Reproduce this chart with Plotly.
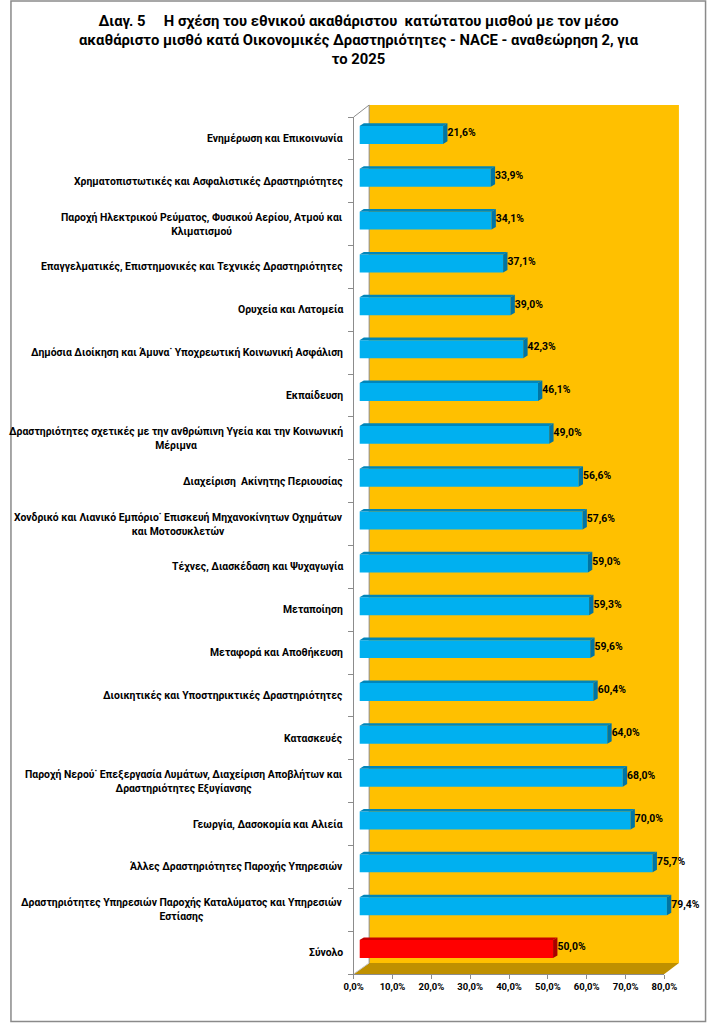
import plotly.graph_objects as go

W, H = 720, 1023

title_lines = [
    "Διαγ. 5\u00a0\u00a0\u00a0\u00a0\u00a0Η σχέση του εθνικού ακαθάριστου\u00a0 κατώτατου μισθού με τον μέσο",
    "ακαθάριστο μισθό κατά Οικονομικές Δραστηριότητες - NACE - αναθεώρηση 2, για",
    "το 2025",
]

categories = [
    "Ενημέρωση και Επικοινωνία",
    "Χρηματοπιστωτικές και Ασφαλιστικές Δραστηριότητες",
    "Παροχή Ηλεκτρικού Ρεύματος, Φυσικού Αερίου, Ατμού και<br>Κλιματισμού",
    "Επαγγελματικές, Επιστημονικές και Τεχνικές Δραστηριότητες",
    "Ορυχεία και Λατομεία",
    "Δημόσια Διοίκηση και Άμυνα˙ Υποχρεωτική Κοινωνική Ασφάλιση",
    "Εκπαίδευση",
    "Δραστηριότητες σχετικές με την ανθρώπινη Υγεία και την Κοινωνική<br>Μέριμνα",
    "Διαχείριση\u00a0 Ακίνητης Περιουσίας",
    "Χονδρικό και Λιανικό Εμπόριο˙ Επισκευή Μηχανοκίνητων Οχημάτων<br>και Μοτοσυκλετών",
    "Τέχνες, Διασκέδαση και Ψυχαγωγία",
    "Μεταποίηση",
    "Μεταφορά και Αποθήκευση",
    "Διοικητικές και Υποστηρικτικές Δραστηριότητες",
    "Κατασκευές",
    "Παροχή Νερού˙ Επεξεργασία Λυμάτων, Διαχείριση Αποβλήτων και<br>Δραστηριότητες Εξυγίανσης",
    "Γεωργία, Δασοκομία και Αλιεία",
    "Άλλες Δραστηριότητες Παροχής Υπηρεσιών",
    "Δραστηριότητες Υπηρεσιών Παροχής Καταλύματος και Υπηρεσιών<br>Εστίασης",
    "Σύνολο",
]

values = [21.6, 33.9, 34.1, 37.1, 39.0, 42.3, 46.1, 49.0, 56.6, 57.6,
          59.0, 59.3, 59.6, 60.4, 64.0, 68.0, 70.0, 75.7, 79.4, 50.0]

x_ticks = [0, 10, 20, 30, 40, 50, 60, 70, 80]
x_ticktext = [f"{t:.1f}".replace(".", ",") + "%" for t in x_ticks]

# styles
BLUE_FRONT, BLUE_TOP, BLUE_SIDE = "#00B0F0", "#0086BA", "#0074A4"
RED_FRONT, RED_TOP, RED_SIDE = "#FF0000", "#C80000", "#A80000"
WALL, FLOOR, EDGE = "#FFC000", "#BF9000", "#8C8C8C"
FONT = "Roboto"


def px(x):
    return x / W


def py(y):
    return 1 - y / H


n = len(categories)
pos = list(range(n))
total_idx = n - 1

# 3D depth offsets (in data units of the bar axes)
PX_PER_UNIT = 4.0
DX = 4.5 / PX_PER_UNIT   # 4.5 px
DY = 2.6 / 42.9          # 2.6 px at 42.9 px per category
BW = 0.42
BAR_AX_MAX = 85          # keeps labels beyond 80% inside the bar axis range

fig = go.Figure()

colors = [RED_FRONT if i == total_idx else BLUE_FRONT for i in pos]
fig.add_trace(go.Bar(
    x=values, y=pos, orientation="h", width=BW,
    marker=dict(color=colors, line=dict(width=0)),
    xaxis="x2", yaxis="y2", hoverinfo="skip", showlegend=False,
))


def faces(idx_list):
    tx, ty, sx, sy = [], [], [], []
    for i in idx_list:
        v = values[i]
        c = pos[i]
        t = c - BW / 2
        b = c + BW / 2
        tx += [0, v, v + DX, DX, 0, None]
        ty += [t, t, t - DY, t - DY, t, None]
        sx += [v, v, v + DX, v + DX, v, None]
        sy += [t, b, b - DY, t - DY, t, None]
    return tx, ty, sx, sy


blue_idx = [i for i in pos if i != total_idx]
red_idx = [total_idx]
for idx, ctop, cside in [(blue_idx, BLUE_TOP, BLUE_SIDE), (red_idx, RED_TOP, RED_SIDE)]:
    tx, ty, sx, sy = faces(idx)
    fig.add_trace(go.Scatter(x=tx, y=ty, mode="lines", fill="toself", fillcolor=ctop,
                             line=dict(width=0, color=ctop), xaxis="x2", yaxis="y2",
                             hoverinfo="skip", showlegend=False))
    fig.add_trace(go.Scatter(x=sx, y=sy, mode="lines", fill="toself", fillcolor=cside,
                             line=dict(width=0, color=cside), xaxis="x2", yaxis="y2",
                             hoverinfo="skip", showlegend=False))

labels = [f"{v:.1f}".replace(".", ",") + "%" for v in values]
fig.add_trace(go.Scatter(
    x=[v + DX for v in values], y=[p - DY / 2 for p in pos], mode="text",
    text=labels, textposition="middle right", cliponaxis=False,
    textfont=dict(family=FONT, size=10.4, color="black", weight="bold"),
    xaxis="x2", yaxis="y2", hoverinfo="skip", showlegend=False,
))

shapes = [
    # back wall
    dict(type="rect", xref="paper", yref="paper", x0=px(371), x1=px(691), y0=py(963), y1=py(105),
         fillcolor=WALL, line=dict(width=0), layer="below"),
    # floor
    dict(type="path", xref="paper", yref="paper",
         path=f"M {px(355)},{py(974)} L {px(676)},{py(974)} L {px(691)},{py(963)} L {px(371)},{py(963)} Z",
         fillcolor=FLOOR, line=dict(width=0), layer="below"),
    # left wall edges
    dict(type="line", xref="paper", yref="paper", x0=px(371), x1=px(371), y0=py(963), y1=py(105),
         line=dict(color=EDGE, width=1), layer="below"),
    dict(type="line", xref="paper", yref="paper", x0=px(355), x1=px(371), y0=py(117), y1=py(105),
         line=dict(color=EDGE, width=1), layer="below"),
    dict(type="line", xref="paper", yref="paper", x0=px(355), x1=px(371), y0=py(974), y1=py(963),
         line=dict(color="#C8C8C8", width=1), layer="below"),
    # outer border
    dict(type="rect", xref="paper", yref="paper", x0=px(1), x1=px(718.5), y0=py(1021.5), y1=py(1),
         fillcolor="rgba(0,0,0,0)", line=dict(color="#8A8A8A", width=1.5)),
]

annotations = [
    dict(text="<br>".join(title_lines), xref="paper", yref="paper", x=0.5, y=py(10),
         xanchor="center", yanchor="top", showarrow=False, align="center",
         font=dict(family=FONT, size=14.8, color="black", weight="bold")),
]
for i, cat in enumerate(categories):
    annotations.append(dict(
        text=cat, xref="paper", yref="y", x=px(346), y=pos[i],
        xanchor="right", yanchor="middle", showarrow=False, align="center",
        font=dict(family=FONT, size=10.4, color="black", weight="bold"),
    ))

fig.update_layout(
    width=W, height=H, autosize=False,
    margin=dict(l=0, r=0, t=0, b=0),
    paper_bgcolor="white", plot_bgcolor="rgba(0,0,0,0)",
    shapes=shapes, annotations=annotations,
    showlegend=False,
    xaxis=dict(domain=[px(355), px(676)], range=[0, 80], tickvals=x_ticks,
               ticktext=x_ticktext, ticks="outside", ticklen=4,
               tickcolor=EDGE, showline=True, linecolor=EDGE, linewidth=1,
               showgrid=False, zeroline=False, anchor="y", fixedrange=True,
               tickfont=dict(family=FONT, size=9.5, color="black", weight="bold")),
    yaxis=dict(domain=[py(974), py(117)], range=[n - 0.5, -0.5],
               tickvals=[i - 0.5 for i in range(n + 1)], ticktext=[""] * (n + 1),
               ticks="outside", ticklen=5, tickcolor=EDGE, showline=True, linecolor=EDGE,
               linewidth=1, showgrid=False, zeroline=False, anchor="x", fixedrange=True),
    xaxis2=dict(domain=[px(361), px(361 + BAR_AX_MAX * PX_PER_UNIT)], range=[0, BAR_AX_MAX],
                visible=False, anchor="y2", showgrid=False, zeroline=False, fixedrange=True),
    yaxis2=dict(domain=[py(970.5), py(113.5)], range=[n - 0.5, -0.5], visible=False,
                anchor="x2", showgrid=False, zeroline=False, fixedrange=True),
)

fig.write_html(
    "out.html",
    config={"responsive": False, "displayModeBar": False},
    post_script=(
        "var gd=document.getElementById('{plot_id}');"
        "document.body.style.margin='0';"
        "document.documentElement.style.overflow='hidden';"
        f"Plotly.relayout(gd, {{width: {W}, height: {H}}});"
    ),
)
